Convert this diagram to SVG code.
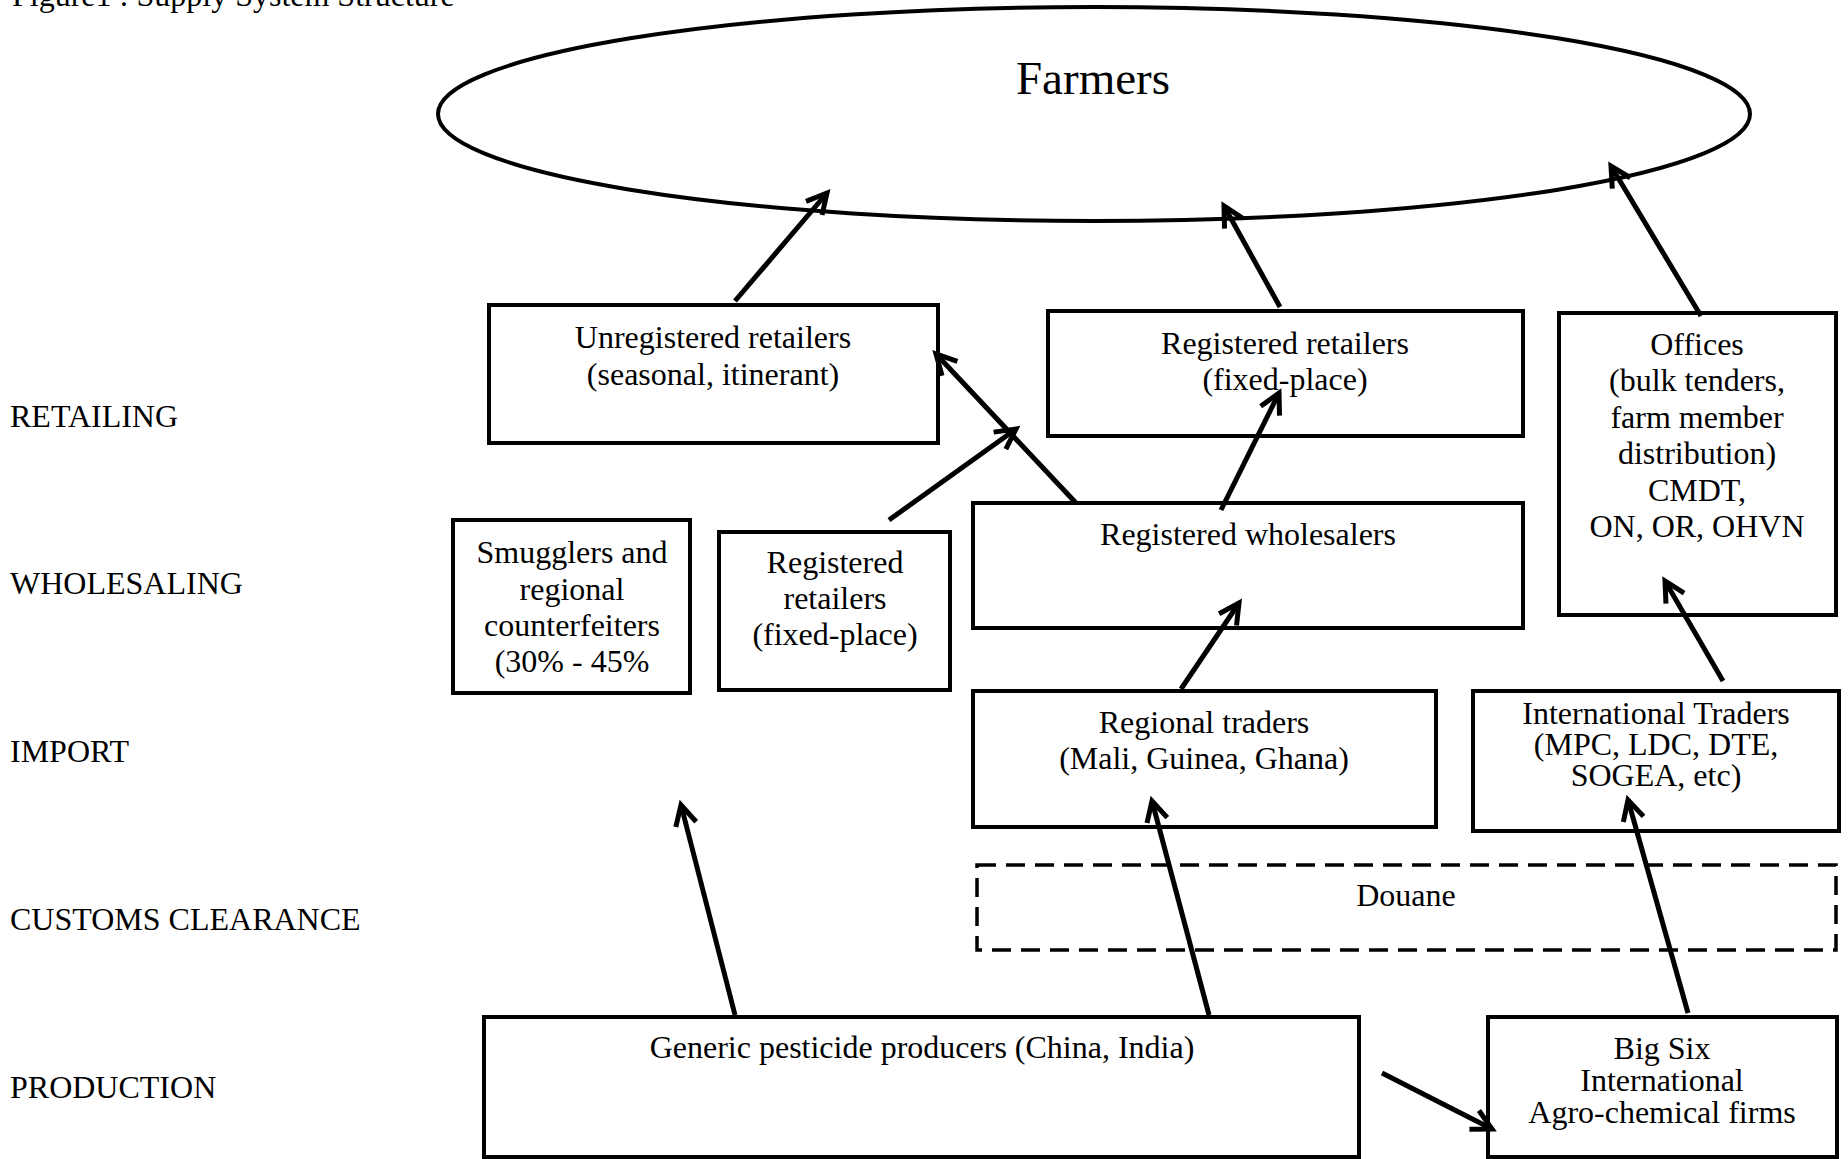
<svg xmlns="http://www.w3.org/2000/svg" width="1848" height="1159" viewBox="0 0 1848 1159">
<style>
text{font-family:"Liberation Serif","Times New Roman",serif;font-size:32px;fill:#000}
.c{text-anchor:middle}
.box{fill:#fff;stroke:#000;stroke-width:4}
.dash{fill:none;stroke:#000;stroke-width:3.5;stroke-dasharray:19 10}
.arr{fill:none;stroke:#000;stroke-width:5;marker-end:url(#ah)}
</style>
<defs>
<marker id="ah" markerUnits="userSpaceOnUse" viewBox="-26 -16 30 32" markerWidth="30" markerHeight="32" refX="0" refY="0" orient="auto" overflow="visible">
<path d="M-20,-10.5 L0,0 L-20,10.5" fill="none" stroke="#000" stroke-width="5" stroke-linejoin="miter"/>
</marker>
</defs>
<rect width="1848" height="1159" fill="#fff"/>
<text x="12" y="6">Figure1 : Supply System Structure</text>
<g id="labels">
<text x="10" y="427">RETAILING</text>
<text x="10" y="594">WHOLESALING</text>
<text x="10" y="762">IMPORT</text>
<text x="10" y="930">CUSTOMS CLEARANCE</text>
<text x="10" y="1098">PRODUCTION</text>
</g>
<g id="farmers">
<ellipse cx="1094" cy="114" rx="656" ry="107" fill="#fff" stroke="#000" stroke-width="4"/>
<text class="c" x="1093" y="94" style="font-size:47px">Farmers</text>
</g>
<g id="unregistered-retailers">
<rect class="box" x="489" y="305" width="449" height="138"/>
<text class="c" x="713" y="348">Unregistered retailers</text>
<text class="c" x="713" y="385">(seasonal, itinerant)</text>
</g>
<g id="registered-retailers-top">
<rect class="box" x="1048" y="311" width="475" height="125"/>
<text class="c" x="1285" y="354">Registered retailers</text>
<text class="c" x="1285" y="390">(fixed-place)</text>
</g>
<g id="offices">
<rect class="box" x="1559" y="313" width="277" height="302"/>
<text class="c" x="1697" y="355">Offices</text>
<text class="c" x="1697" y="391">(bulk tenders,</text>
<text class="c" x="1697" y="428">farm member</text>
<text class="c" x="1697" y="464">distribution)</text>
<text class="c" x="1697" y="501">CMDT,</text>
<text class="c" x="1697" y="537">ON, OR, OHVN</text>
</g>
<g id="smugglers">
<rect class="box" x="453" y="520" width="237" height="173"/>
<text class="c" x="572" y="563">Smugglers and</text>
<text class="c" x="572" y="600">regional</text>
<text class="c" x="572" y="636">counterfeiters</text>
<text class="c" x="572" y="672">(30% - 45%</text>
</g>
<g id="registered-retailers-mid">
<rect class="box" x="719" y="532" width="231" height="158"/>
<text class="c" x="835" y="573">Registered</text>
<text class="c" x="835" y="609">retailers</text>
<text class="c" x="835" y="645">(fixed-place)</text>
</g>
<g id="registered-wholesalers">
<rect class="box" x="973" y="503" width="550" height="125"/>
<text class="c" x="1248" y="545">Registered wholesalers</text>
</g>
<g id="regional-traders">
<rect class="box" x="973" y="691" width="463" height="136"/>
<text class="c" x="1204" y="733">Regional traders</text>
<text class="c" x="1204" y="769">(Mali, Guinea, Ghana)</text>
</g>
<g id="international-traders">
<rect class="box" x="1473" y="691" width="366" height="140"/>
<text class="c" x="1656" y="724">International Traders</text>
<text class="c" x="1656" y="755">(MPC, LDC, DTE,</text>
<text class="c" x="1656" y="786">SOGEA, etc)</text>
</g>
<g id="douane">
<rect class="dash" x="977" y="865" width="859" height="85"/>
<text class="c" x="1406" y="906">Douane</text>
</g>
<g id="generic-producers">
<rect class="box" x="484" y="1017" width="875" height="140"/>
<text class="c" x="922" y="1058">Generic pesticide producers (China, India)</text>
</g>
<g id="big-six">
<rect class="box" x="1488" y="1017" width="349" height="140"/>
<text class="c" x="1662" y="1059">Big Six</text>
<text class="c" x="1662" y="1091">International</text>
<text class="c" x="1662" y="1123">Agro-chemical firms</text>
</g>
<g id="connectors">
<line class="arr" x1="735" y1="301" x2="827" y2="193"/>
<line class="arr" x1="1280" y1="307" x2="1224" y2="206"/>
<line class="arr" x1="1701" y1="316" x2="1611" y2="166"/>
<line class="arr" x1="1076" y1="503" x2="936" y2="354"/>
<line class="arr" x1="889" y1="520" x2="1016" y2="429"/>
<line class="arr" x1="1221" y1="510" x2="1279" y2="393"/>
<line class="arr" x1="1181" y1="689" x2="1239" y2="603"/>
<line class="arr" x1="1723" y1="681" x2="1665" y2="581"/>
<line class="arr" x1="735" y1="1015" x2="681" y2="805"/>
<line class="arr" x1="1209" y1="1015" x2="1152" y2="801"/>
<line class="arr" x1="1688" y1="1013" x2="1628" y2="800"/>
<line class="arr" x1="1382" y1="1073" x2="1492" y2="1129"/>
</g>
</svg>
